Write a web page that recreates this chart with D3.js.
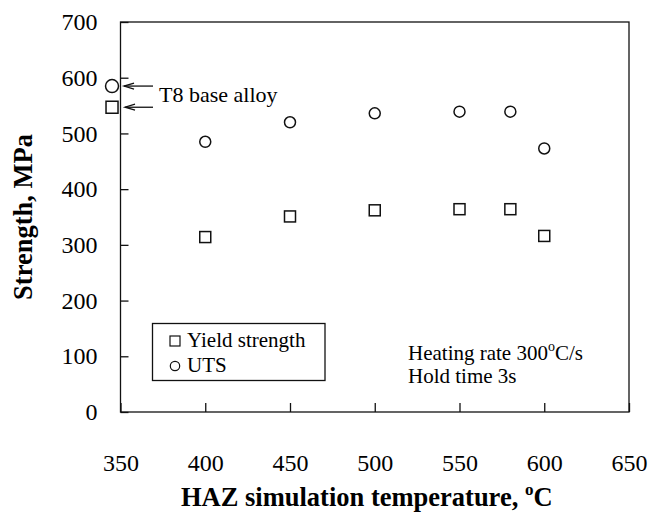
<!DOCTYPE html>
<html>
<head>
<meta charset="utf-8">
<script src="https://cdn.jsdelivr.net/npm/d3@7"></script>
<style>
  html, body { margin: 0; padding: 0; background: #fff; }
  svg { display: block; }
  text { font-family: "Liberation Serif", "Times New Roman", serif; fill: #000; }
</style>
</head>
<body>
<svg id="chart" width="651" height="512"></svg>
<script>
// HAZ simulation temperatures (°C) and measured strengths (MPa)
const temperatures = [400, 450, 500, 550, 580, 600];
const yieldStrength = [314, 351, 362, 364, 364, 316];
const utsValues = [485, 520, 536, 539, 539, 473];

// T8 base alloy reference values, plotted just left of the axis
const baseTemperature = 345;
const baseYield = 547;
const baseUTS = 585;

const xTicks = [350, 400, 450, 500, 550, 600, 650];
const yTicks = [0, 100, 200, 300, 400, 500, 600, 700];

const serif = '"Liberation Serif", "Times New Roman", serif';
const svg = d3.select("#chart");

const x = d3.scaleLinear().domain([350, 650]).range([120.5, 629]);
const y = d3.scaleLinear().domain([0, 700]).range([412, 22]);

const ink = "#111";

// axes with inward ticks
const gx = svg.append("g")
  .attr("transform", `translate(0,${y(0)})`)
  .call(d3.axisBottom(x).tickValues(xTicks).tickSizeInner(-9).tickSizeOuter(0).tickPadding(42));
const gy = svg.append("g")
  .attr("transform", `translate(${x(350)},0)`)
  .call(d3.axisLeft(y).tickValues(yTicks).tickSizeInner(-8).tickSizeOuter(0).tickPadding(23));

[gx, gy].forEach(g => {
  g.attr("font-family", serif).attr("font-size", 24);
  g.select(".domain").remove();
  g.selectAll(".tick line").attr("stroke", ink).attr("stroke-width", 1.3);
  g.selectAll(".tick text").attr("fill", "#000");
});

// frame
svg.append("rect")
  .attr("x", x(350)).attr("y", y(700))
  .attr("width", x(650) - x(350)).attr("height", y(0) - y(700))
  .attr("fill", "none").attr("stroke", ink).attr("stroke-width", 1.3);

// axis titles
const xTitle = svg.append("text")
  .attr("x", (x(350) + x(650)) / 2 - 8)
  .attr("y", 506)
  .attr("text-anchor", "middle")
  .style("font-size", "26.5px").style("font-weight", "bold");
xTitle.append("tspan").text("HAZ simulation temperature, ");
xTitle.append("tspan").attr("font-size", "17px").attr("dy", -11).text("o");
xTitle.append("tspan").attr("dy", 11).text("C");

svg.append("text")
  .attr("transform", `translate(32,${(y(0) + y(700)) / 2}) rotate(-90)`)
  .attr("text-anchor", "middle")
  .style("font-size", "26.5px").style("font-weight", "bold")
  .text("Strength, MPa");

const markerStroke = 1.5;
const sq = 11;

// yield strength squares
svg.append("g").selectAll("rect")
  .data(temperatures.map((t, i) => ({ t, v: yieldStrength[i] })))
  .join("rect")
  .attr("x", d => x(d.t) - sq / 2).attr("y", d => y(d.v) - sq / 2)
  .attr("width", sq).attr("height", sq)
  .attr("fill", "none").attr("stroke", ink).attr("stroke-width", markerStroke);

// UTS circles
svg.append("g").selectAll("circle")
  .data(temperatures.map((t, i) => ({ t, v: utsValues[i] })))
  .join("circle")
  .attr("cx", d => x(d.t)).attr("cy", d => y(d.v)).attr("r", 5.5)
  .attr("fill", "none").attr("stroke", ink).attr("stroke-width", markerStroke);

// base alloy markers
svg.append("rect")
  .attr("x", x(baseTemperature) - 6).attr("y", y(baseYield) - 6)
  .attr("width", 12).attr("height", 12)
  .attr("fill", "#fff").attr("stroke", ink).attr("stroke-width", markerStroke);
svg.append("circle")
  .attr("cx", x(baseTemperature)).attr("cy", y(baseUTS)).attr("r", 6.5)
  .attr("fill", "#fff").attr("stroke", ink).attr("stroke-width", markerStroke);

// arrows pointing at the base alloy markers
function arrow(tipX, tipY, tailX) {
  const g = svg.append("g").attr("stroke", ink).attr("stroke-width", 1.3).attr("fill", "none");
  g.append("line").attr("x1", tailX).attr("y1", tipY).attr("x2", tipX).attr("y2", tipY);
  g.append("path").attr("d", `M${tipX + 10},${tipY - 3} L${tipX},${tipY} L${tipX + 10},${tipY + 3}`);
}
arrow(x(baseTemperature) + 12, y(baseUTS), 153);
arrow(x(baseTemperature) + 13, y(baseYield), 153);

svg.append("text")
  .attr("x", 159).attr("y", 102)
  .style("font-size", "22px")
  .text("T8 base alloy");

// legend
const legend = svg.append("g");
legend.append("rect")
  .attr("x", 152.5).attr("y", 323.5).attr("width", 172.5).attr("height", 57)
  .attr("fill", "#fff").attr("stroke", ink).attr("stroke-width", 1.3);
legend.append("rect")
  .attr("x", 170).attr("y", 336).attr("width", 10).attr("height", 10)
  .attr("fill", "none").attr("stroke", ink).attr("stroke-width", 1.2);
legend.append("circle")
  .attr("cx", 175).attr("cy", 366).attr("r", 4.7)
  .attr("fill", "none").attr("stroke", ink).attr("stroke-width", 1.2);
legend.append("text").attr("x", 187).attr("y", 347).style("font-size", "21px").text("Yield strength");
legend.append("text").attr("x", 187).attr("y", 372).style("font-size", "21px").text("UTS");

// test conditions
const cond = svg.append("text").attr("x", 408).attr("y", 360).style("font-size", "21px");
cond.append("tspan").text("Heating rate 300");
cond.append("tspan").attr("font-size", "14px").attr("dy", -9).text("o");
cond.append("tspan").attr("dy", 9).text("C/s");
svg.append("text").attr("x", 408).attr("y", 383).style("font-size", "21px").text("Hold time 3s");
</script>
</body>
</html>
